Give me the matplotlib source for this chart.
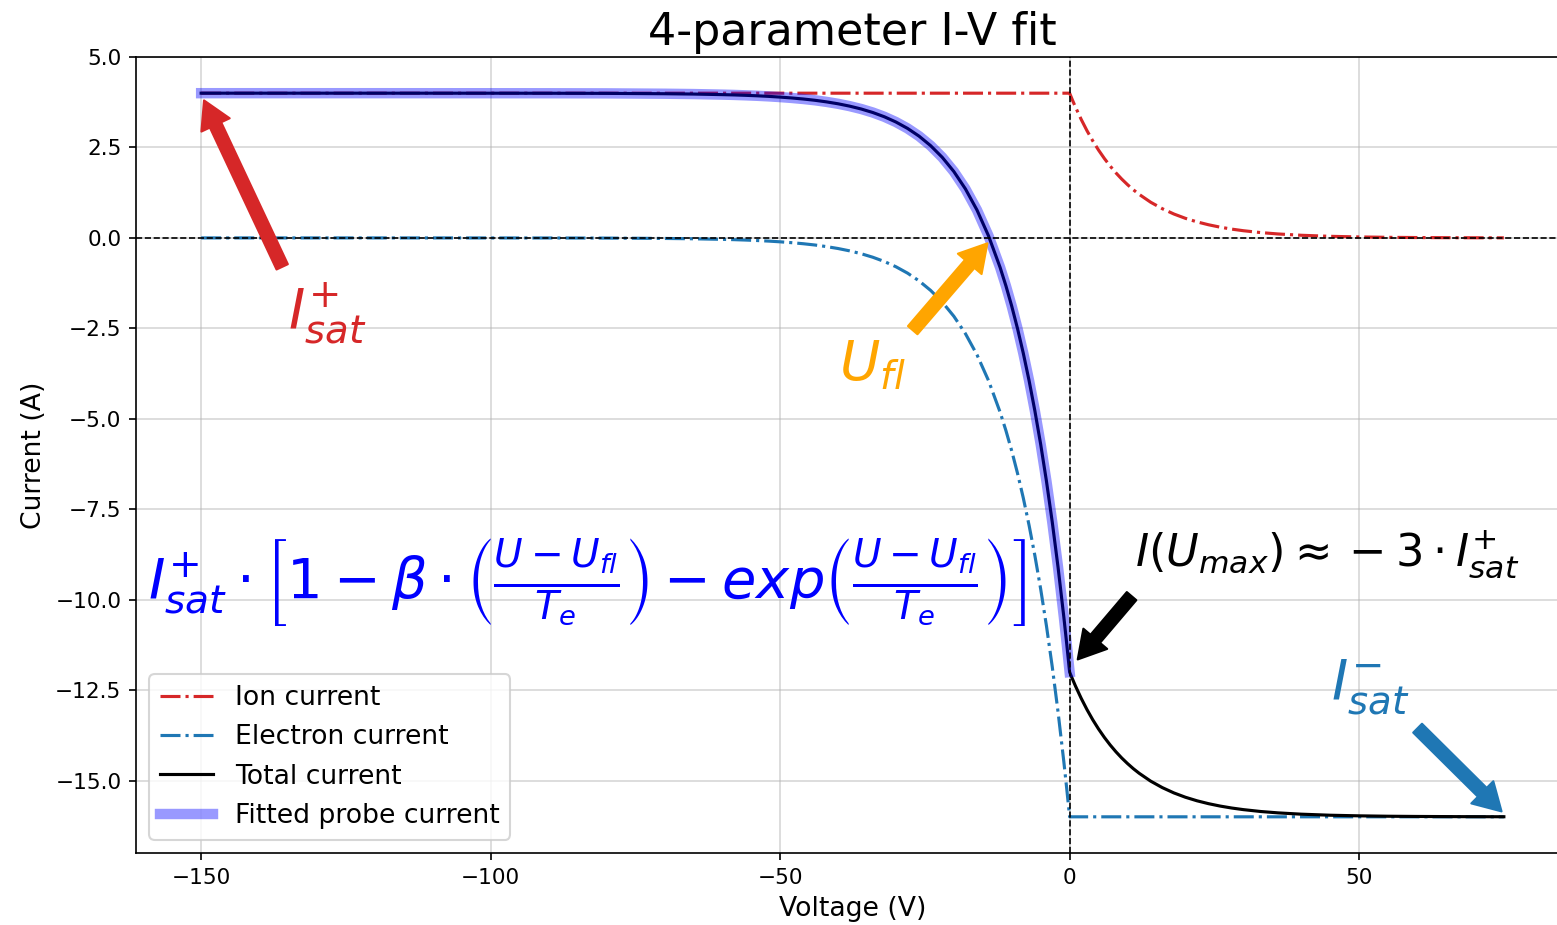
import matplotlib
matplotlib.use("Agg")
import matplotlib.pyplot as plt
import numpy as np

# ---- data ----
voltage_neg = [-150, -120, -100, -90, -80, -70, -65,
               -60, -58, -56, -54, -52, -50, -48, -46, -44, -42, -40, -38, -36,
               -34, -32, -30, -28, -26, -24, -22, -20, -18, -16, -14, -12,
               -11, -10, -9, -8, -7, -6, -5, -4, -3, -2, -1, -0.5, 0]
voltage_pos = [0.5, 1, 2, 3, 4, 5, 6, 7, 8, 9, 10, 11, 12,
               14, 16, 18, 20, 22, 24, 26, 28, 30,
               33, 36, 40, 45, 50, 55, 60, 67, 75]

ion_neg = [4.0] * 45
ion_pos = [3.805, 3.619, 3.275, 2.963, 2.681, 2.426, 2.195, 1.986, 1.797,
           1.626, 1.472, 1.331, 1.205,
           0.986, 0.808, 0.661, 0.541, 0.443, 0.363, 0.297, 0.243, 0.199,
           0.147, 0.109, 0.073, 0.044, 0.027, 0.016, 0.010, 0.005, 0.002]

electron_neg = [0.000, 0.000, -0.001, -0.002, -0.005, -0.015, -0.024,
                -0.040, -0.048, -0.059, -0.072, -0.088, -0.108, -0.132, -0.161,
                -0.196, -0.240, -0.293, -0.358, -0.437, -0.534, -0.652, -0.797,
                -0.973, -1.188, -1.452, -1.773, -2.165, -2.645, -3.230, -3.946,
                -4.819, -5.326, -5.886, -6.505, -7.189, -7.945, -8.781, -9.704,
                -10.725, -11.853, -13.100, -14.477, -15.220, -16.000]
electron_pos = [-16.0] * 31

V = np.array(voltage_neg + voltage_pos, dtype=float)
I_ion = np.array(ion_neg + ion_pos)
I_el = np.array(electron_neg + electron_pos)
I_tot = I_ion + I_el
fit_mask = V <= 0

plt.rcParams['font.family'] = ['DejaVu Sans']

fig = plt.figure(figsize=(1557 / 150, 925 / 150), dpi=150)
ax = fig.add_axes([136 / 1557, 1 - 853 / 925, 1433 / 1557, (853 - 57) / 925])

ax.plot(V, I_ion, '-.', color='tab:red', lw=1.5, label='Ion current')
ax.plot(V, I_el, '-.', color='tab:blue', lw=1.5, label='Electron current')
ax.plot(V, I_tot, '-', color='black', lw=1.5, label='Total current')
ax.plot(V[fit_mask], I_tot[fit_mask], '-', color='blue', alpha=0.4, lw=5,
        label='Fitted probe current')

ax.axhline(0, color='black', ls='--', lw=0.8)
ax.axvline(0, color='black', ls='--', lw=0.8)
ax.grid(True, alpha=0.5)

ax.set_title('4-parameter I-V fit', fontsize=21.3)
ax.set_xlabel('Voltage (V)', fontsize=12.8)
ax.set_ylabel('Current (A)', fontsize=12.8)
ax.tick_params(labelsize=10.4)

def arrow(tail, tip, color):
    ax.annotate('', xy=tip, xytext=tail,
                arrowprops=dict(facecolor=color, edgecolor=color, width=6,
                                headwidth=15, headlength=13, shrink=0))

arrow((-136, -0.8), (-149.5, 3.8), 'tab:red')
ax.text(-128.2, -2.1, r'$I_{sat}^{+}$', color='tab:red', fontsize=26.5,
        ha='center', va='center')

arrow((-27.1, -2.55), (-14.2, -0.15), 'orange')
ax.text(-34, -3.5, r'$U_{fl}$', color='orange', fontsize=26.5,
        ha='center', va='center')

arrow((10.7, -9.9), (1.4, -11.65), 'black')
ax.text(44.5, -8.75, r'$I(U_{max}) \approx -3 \cdot I_{sat}^{+}$', color='black',
        fontsize=21.5, ha='center', va='center')

arrow((60.1, -13.55), (74.6, -15.85), 'tab:blue')
ax.text(52, -12.4, r'$I_{sat}^{-}$', color='tab:blue', fontsize=26.5,
        ha='center', va='center')

ax.text(-83.3, -9.55,
        r'$I_{sat}^{+} \cdot \left[1 - \beta \cdot \left(\frac{U-U_{fl}}{T_e}\right)'
        r' - exp\left(\frac{U-U_{fl}}{T_e}\right)\right]$',
        color='blue', fontsize=26.8, ha='center', va='center')

ax.legend(loc='lower left', fontsize=12.8)

fig.savefig('out.png', dpi=150)
